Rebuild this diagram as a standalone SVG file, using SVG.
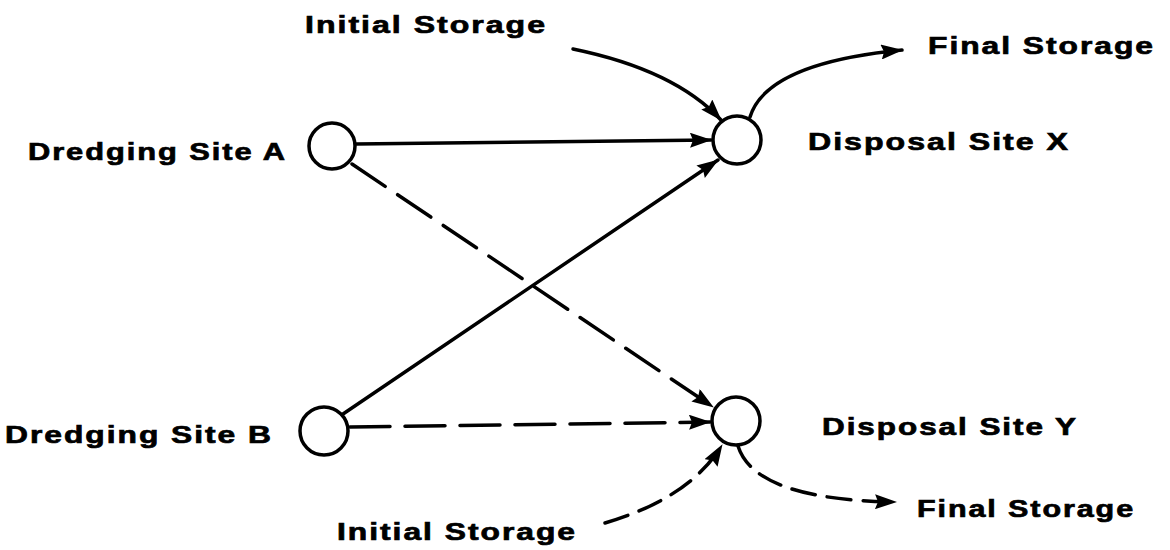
<svg xmlns="http://www.w3.org/2000/svg" width="1170" height="550" viewBox="0 0 1170 550">
<style>
.lbl{font-family:"Liberation Sans",Arial,sans-serif;font-weight:bold;font-size:24px;letter-spacing:1.5px;fill:#000;stroke:#000;stroke-width:0.7}
.node{fill:#fff;stroke:#000;stroke-width:3.5}
.e{fill:none;stroke:#000;stroke-width:3.5;stroke-linecap:round}
.d{stroke-dasharray:40 15}
.ds{stroke-dasharray:24 12}
</style>
<defs>
<marker id="ah" markerUnits="userSpaceOnUse" markerWidth="22" markerHeight="15" refX="21" refY="7.5" orient="auto">
<path d="M0,0 L22,7.5 L0,15 L3,7.5 z" fill="#000"/>
</marker>
</defs>
<rect width="1170" height="550" fill="#fff"/>
<g id="connectors">
<line class="e" x1="356" y1="144" x2="711" y2="140" marker-end="url(#ah)"/>
<line class="e" x1="343" y1="414" x2="718" y2="160" marker-end="url(#ah)"/>
<line class="e d" x1="352" y1="164" x2="713" y2="407" marker-end="url(#ah)"/>
<line class="e d" x1="350" y1="427" x2="710" y2="422" marker-end="url(#ah)"/>
<path class="e" d="M573,49 Q675,70 721,120" marker-end="url(#ah)"/>
<path class="e" d="M750,117 C762,78 820,58 902,50" marker-end="url(#ah)"/>
<path class="e ds" d="M605,523 Q690,498 722,445" marker-end="url(#ah)"/>
<path class="e ds" d="M738,446 Q755,500 896,502" marker-end="url(#ah)"/>
</g>
<g id="dredgingA">
<circle class="node" cx="332" cy="146" r="23"/>
<text class="lbl" x="28" y="160" textLength="259" lengthAdjust="spacingAndGlyphs">Dredging Site A</text>
</g>
<g id="dredgingB">
<circle class="node" cx="324" cy="431" r="24"/>
<text class="lbl" x="5" y="443" textLength="268" lengthAdjust="spacingAndGlyphs">Dredging Site B</text>
</g>
<g id="disposalX">
<circle class="node" cx="737" cy="140" r="24"/>
<text class="lbl" x="808" y="150" textLength="262" lengthAdjust="spacingAndGlyphs">Disposal Site X</text>
</g>
<g id="disposalY">
<circle class="node" cx="736" cy="421" r="24"/>
<text class="lbl" x="822" y="435" textLength="256" lengthAdjust="spacingAndGlyphs">Disposal Site Y</text>
</g>
<g id="initialStorageTop">
<text class="lbl" x="305" y="33" textLength="242" lengthAdjust="spacingAndGlyphs">Initial Storage</text>
</g>
<g id="finalStorageTop">
<text class="lbl" x="928" y="54" textLength="227" lengthAdjust="spacingAndGlyphs">Final Storage</text>
</g>
<g id="initialStorageBottom">
<text class="lbl" x="337" y="540" textLength="240" lengthAdjust="spacingAndGlyphs">Initial Storage</text>
</g>
<g id="finalStorageBottom">
<text class="lbl" x="917" y="517" textLength="218" lengthAdjust="spacingAndGlyphs">Final Storage</text>
</g>
</svg>
